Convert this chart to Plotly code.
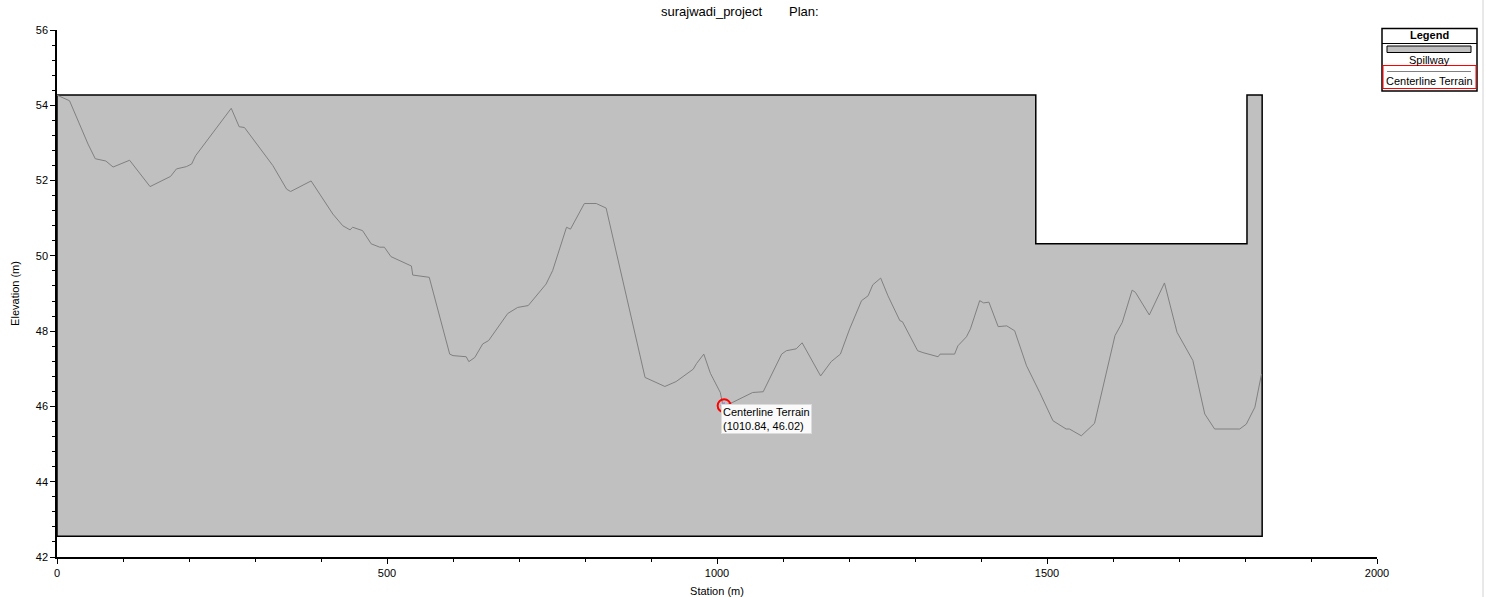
import plotly.graph_objects as go

# centerline terrain profile
station = [0, 19, 47, 58, 74, 85, 110, 141, 172, 181, 196, 204, 210, 264, 276, 284,
           327, 348, 354, 385, 418, 433, 444, 448, 463, 476, 489, 496, 506, 519, 537,
           539, 564, 595, 600, 620, 624, 633, 645, 654, 683, 698, 714, 741, 751, 772,
           778, 799, 817, 832, 891, 921, 938, 964, 969, 980, 990, 1005, 1008, 1010.84,
           1024, 1054, 1070, 1098, 1105, 1120, 1129, 1157, 1173, 1187, 1201, 1219, 1229,
           1236, 1248, 1259, 1277, 1281, 1304, 1312, 1335, 1338, 1360, 1365, 1378, 1384,
           1398, 1404, 1412, 1426, 1439, 1451, 1469, 1489, 1509, 1529, 1534, 1552, 1562,
           1572, 1603, 1614, 1629, 1634, 1655, 1678, 1697, 1706, 1721, 1739, 1754, 1792,
           1802, 1815, 1825]
elevation = [54.27, 54.12, 52.97, 52.58, 52.52, 52.36, 52.54, 51.84, 52.11, 52.31, 52.37,
             52.44, 52.66, 53.92, 53.43, 53.41, 52.40, 51.77, 51.71, 51.99, 51.11, 50.80,
             50.69, 50.76, 50.67, 50.32, 50.23, 50.23, 49.98, 49.87, 49.73, 49.49, 49.43,
             47.39, 47.35, 47.32, 47.19, 47.30, 47.66, 47.75, 48.47, 48.63, 48.68, 49.25,
             49.61, 50.76, 50.71, 51.39, 51.39, 51.27, 46.77, 46.53, 46.66, 46.99, 47.14,
             47.39, 46.88, 46.37, 46.11, 46.02, 46.11, 46.37, 46.39, 47.39, 47.48, 47.53,
             47.69, 46.81, 47.19, 47.39, 48.06, 48.81, 48.94, 49.23, 49.41, 48.94, 48.28,
             48.25, 47.48, 47.43, 47.32, 47.39, 47.39, 47.61, 47.85, 48.06, 48.81, 48.75,
             48.77, 48.12, 48.14, 48.01, 47.08, 46.37, 45.62, 45.40, 45.40, 45.22, 45.38,
             45.55, 47.88, 48.23, 49.09, 49.03, 48.43, 49.28, 47.97, 47.70, 47.22, 45.80,
             45.40, 45.40, 45.53, 45.98, 46.86]

# spillway outline
spill_x = [0, 1483, 1483, 1803, 1803, 1826, 1826, 0, 0]
spill_y = [54.27, 54.27, 50.32, 50.32, 54.27, 54.27, 42.55, 42.55, 54.27]

# hovered point
pick_x = 1010.84
pick_y = 46.02

FONT = "Liberation Sans"

fig = go.Figure()

fig.add_trace(go.Scatter(x=spill_x, y=spill_y, mode="lines", fill="toself",
                         fillcolor="rgb(192,192,192)",
                         line=dict(color="black", width=1.5),
                         name="Spillway", hoverinfo="skip"))

fig.add_trace(go.Scatter(x=station, y=elevation, mode="lines",
                         line=dict(color="rgb(128,128,128)", width=1),
                         name="Centerline Terrain"))

fig.add_trace(go.Scatter(x=[pick_x], y=[pick_y], mode="markers",
                         marker=dict(symbol="circle-open", size=13, color="red",
                                     line=dict(width=2, color="red")),
                         hoverinfo="skip"))
fig.add_trace(go.Scatter(x=[pick_x], y=[pick_y], mode="markers",
                         marker=dict(symbol="cross-thin-open", size=5,
                                     line=dict(width=1, color="red")),
                         hoverinfo="skip"))

fig.add_annotation(x=pick_x, y=pick_y, xref="x", yref="y",
                   text="Centerline Terrain<br>(%.2f, %.2f)" % (pick_x, pick_y),
                   showarrow=False, xanchor="left", yanchor="top", align="left",
                   xshift=-3, yshift=2, bgcolor="rgb(250,250,250)",
                   bordercolor="rgb(220,220,220)", borderwidth=1, borderpad=1,
                   font=dict(family=FONT, size=11, color="black"))

# pixel -> paper helpers (plot area is 57..1377 x 30..557)
def px(v):
    return (v - 57) / 1320.0

def py(v):
    return (557 - v) / 527.0

shapes = [
    # legend frame
    dict(type="rect", xref="paper", yref="paper", x0=px(1382), x1=px(1477),
         y0=py(91), y1=py(28.5), line=dict(color="black", width=1.5)),
    dict(type="line", xref="paper", yref="paper", x0=px(1382), x1=px(1477),
         y0=py(43.5), y1=py(43.5), line=dict(color="black", width=1)),
    dict(type="rect", xref="paper", yref="paper", x0=px(1387), x1=px(1471),
         y0=py(52.5), y1=py(46), fillcolor="rgb(192,192,192)",
         line=dict(color="black", width=1)),
    dict(type="rect", xref="paper", yref="paper", x0=px(1383), x1=px(1476),
         y0=py(88.5), y1=py(65.5), line=dict(color="red", width=1)),
    dict(type="line", xref="paper", yref="paper", x0=px(1387), x1=px(1471),
         y0=py(71.5), y1=py(71.5), line=dict(color="rgb(128,128,128)", width=1)),
    # window edge
    dict(type="line", xref="paper", yref="paper", x0=px(1483), x1=px(1483),
         y0=py(0), y1=py(597), line=dict(color="rgb(210,210,210)", width=1)),
]

annos = [
    dict(text="<b>Legend</b>", x=px(1429.5), y=py(35.5), size=11),
    dict(text="Spillway", x=px(1429.5), y=py(60), size=11),
    dict(text="Centerline Terrain", x=px(1429.5), y=py(81), size=11),
]
for a in annos:
    fig.add_annotation(text=a["text"], x=a["x"], y=a["y"], xref="paper", yref="paper",
                       showarrow=False, xanchor="center", yanchor="middle",
                       font=dict(family=FONT, size=a["size"], color="black"))

fig.add_annotation(text="surajwadi_project", x=px(659), y=py(12), xref="paper",
                   yref="paper", showarrow=False, xanchor="left", yanchor="middle",
                   font=dict(family=FONT, size=13, color="black"))
fig.add_annotation(text="Plan:", x=px(787), y=py(12), xref="paper",
                   yref="paper", showarrow=False, xanchor="left", yanchor="middle",
                   font=dict(family=FONT, size=13, color="black"))

fig.update_layout(
    width=1486, height=597,
    margin=dict(l=57, r=109, t=30, b=40),
    plot_bgcolor="white", paper_bgcolor="white",
    showlegend=False,
    shapes=shapes,
    font=dict(family=FONT, size=11, color="black"),
    hovermode=False,
)

fig.update_xaxes(range=[0, 2000], dtick=500, showgrid=False, zeroline=False,
                 showline=True, linecolor="black", linewidth=1.5,
                 ticks="outside", ticklen=5, tickcolor="black", automargin=False,
                 minor=dict(dtick=100, ticks="outside", ticklen=3, tickcolor="black"),
                 title=dict(text="Station (m)", font=dict(size=11), standoff=10))
fig.update_yaxes(range=[42, 56], dtick=2, showgrid=False, zeroline=False,
                 showline=True, linecolor="black", linewidth=1.5,
                 ticks="outside", ticklen=5, tickcolor="black", automargin=False,
                 minor=dict(dtick=0.4, ticks="outside", ticklen=3, tickcolor="black"),
                 title=dict(text="Elevation (m)", font=dict(size=11), standoff=14))

fig.write_html("out.html", config={"displayModeBar": False},
               post_script="document.body.style.margin='0px';")
